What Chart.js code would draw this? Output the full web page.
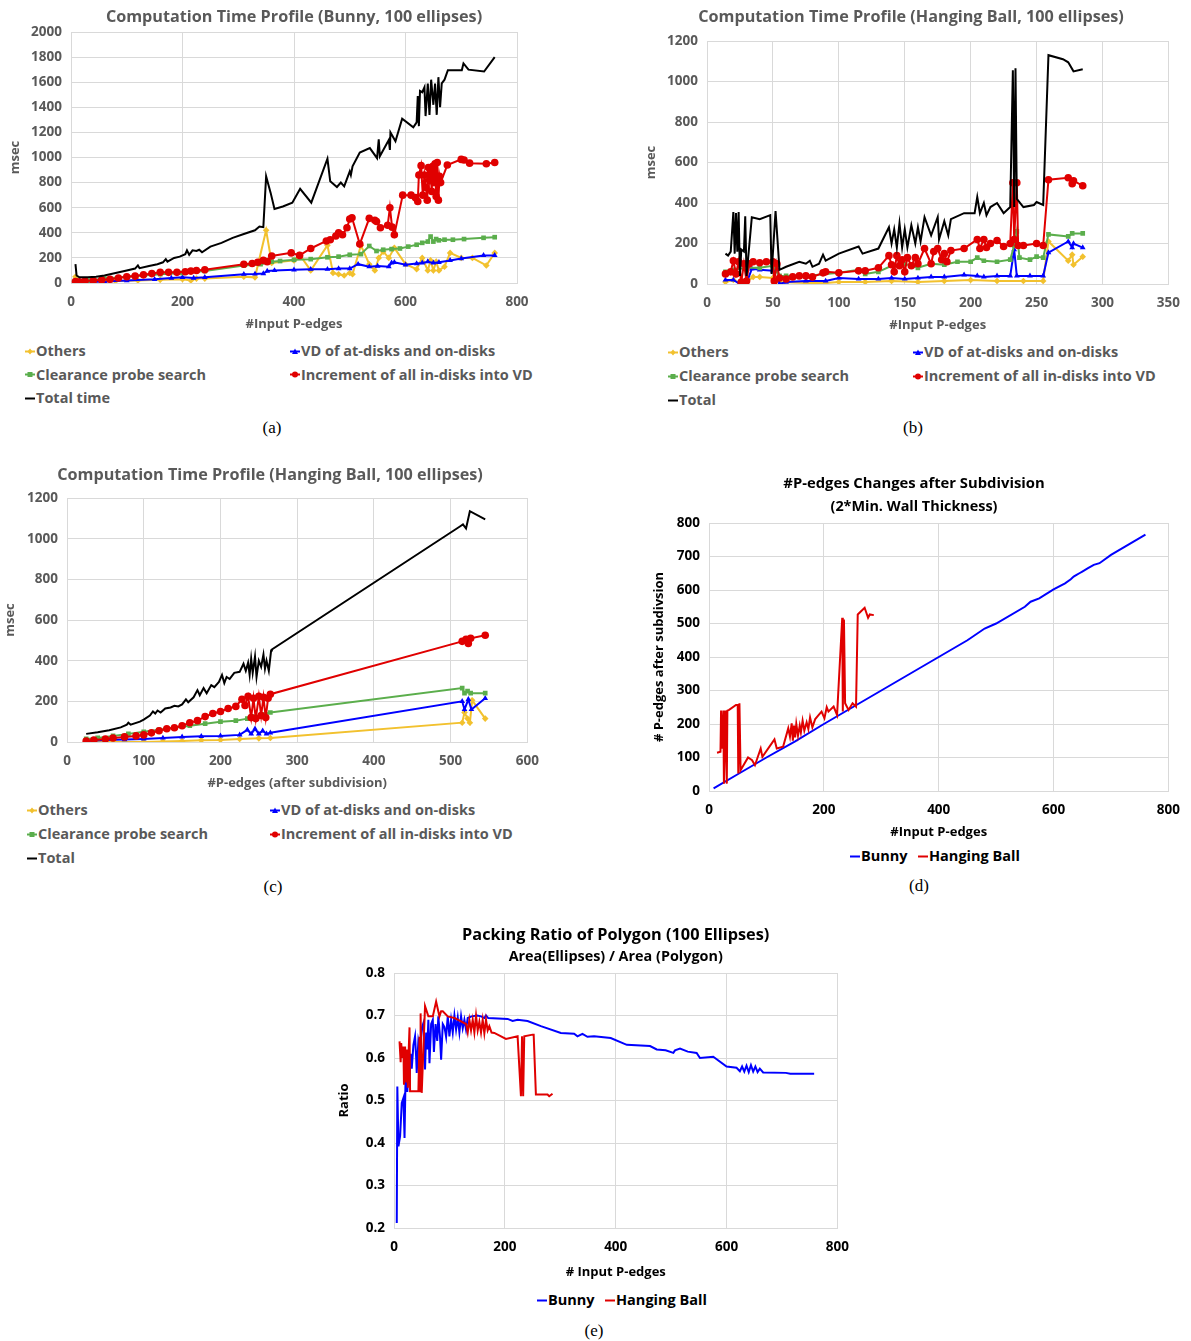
<!DOCTYPE html>
<html>
<head>
<meta charset="utf-8">
<script src="https://cdn.jsdelivr.net/npm/chart.js@4.4.0/dist/chart.umd.min.js"></script>
<style>
body { margin:0; background:#fff; width:1191px; height:1341px; position:relative; overflow:hidden; font-family:"Open Sans", sans-serif; }
canvas { position:absolute; }
.lg { position:absolute; font:bold 14.5px "Open Sans"; color:#595959; white-space:nowrap; line-height:18px; }
.lg svg { vertical-align:middle; margin-right:1px; position:relative; top:-1px; }
.cap { position:absolute; font:17px "Liberation Serif"; color:#000; transform:translate(-50%,-50%); }
</style>
</head>
<body>
<canvas id="chartA"></canvas>
<canvas id="chartB"></canvas>
<canvas id="chartC"></canvas>
<canvas id="chartD"></canvas>
<canvas id="chartE"></canvas>
<script>
// (a) Bunny, time vs #input P-edges  [x, msec]
const bunnyTotal = [[8,150],[10,60],[15,45],[30,45],[45,50],[60,60],[80,80],[100,100],[115,115],[120,140],[123,118],[140,135],[155,150],[165,165],[170,190],[173,170],[185,200],[195,210],[205,230],[208,260],[212,225],[218,260],[225,255],[230,265],[235,245],[250,290],[270,320],[290,360],[310,390],[330,420],[338,450],[345,445],[350,850],[358,720],[365,590],[380,610],[397,640],[411,750],[431,640],[460,990],[465,810],[477,765],[484,800],[490,770],[500,890],[502,860],[505,930],[518,1040],[536,1075],[549,995],[552,1145],[554,1010],[570,1140],[572,1060],[573,1200],[582,1130],[594,1310],[614,1240],[620,1280],[622,1490],[624,1250],[626,1530],[630,1520],[634,1560],[636,1330],[640,1590],[643,1340],[646,1620],[650,1420],[653,1590],[656,1340],[659,1640],[662,1400],[665,1590],[670,1620],[676,1695],[701,1695],[704,1750],[713,1700],[741,1685],[760,1800]];
const bunnyIncrement = [[8,12],[15,10],[25,15],[40,20],[55,25],[70,30],[85,40],[100,50],[115,55],[130,65],[145,75],[160,85],[175,85],[190,85],[205,90],[215,95],[225,100],[240,105],[310,150],[325,155],[335,165],[345,180],[352,170],[360,215],[395,240],[410,220],[430,275],[458,335],[465,345],[475,375],[480,400],[487,385],[495,440],[500,510],[504,520],[518,310],[535,515],[545,500],[548,490],[555,440],[568,460],[572,600],[576,445],[580,385],[595,700],[610,700],[618,680],[622,650],[624,860],[628,935],[631,700],[634,860],[637,760],[639,660],[641,920],[643,820],[645,890],[647,730],[649,930],[651,800],[653,950],[655,690],[657,960],[659,660],[661,850],[663,800],[675,940],[700,985],[705,980],[715,955],[745,950],[760,960]];
const bunnyClearance = [[8,10],[30,20],[60,35],[100,50],[130,60],[160,70],[200,80],[240,95],[310,140],[340,150],[360,170],[375,175],[400,185],[430,190],[460,205],[480,210],[500,225],[520,230],[535,295],[548,255],[560,265],[575,270],[590,275],[605,290],[620,305],[630,320],[640,330],[645,370],[650,330],[655,350],[660,340],[670,345],[685,345],[705,350],[740,360],[760,365]];
const bunnyVD = [[8,5],[30,8],[60,12],[100,20],[150,30],[180,40],[200,45],[220,40],[240,45],[310,70],[330,72],[345,75],[352,95],[365,100],[400,105],[430,110],[460,110],[480,115],[500,115],[515,150],[535,130],[550,135],[570,130],[575,160],[580,165],[600,145],[620,155],[630,160],[640,170],[650,160],[660,165],[680,180],[700,195],[740,220],[760,220]];
const bunnyOthers = [[8,50],[12,10],[40,12],[80,15],[120,20],[160,25],[200,30],[215,20],[225,35],[240,35],[310,50],[330,45],[350,420],[360,160],[400,180],[410,225],[430,100],[460,300],[470,80],[480,70],[490,60],[500,80],[505,70],[520,300],[535,150],[545,100],[552,200],[560,250],[570,200],[580,280],[600,150],[620,110],[630,200],[640,100],[645,180],[650,100],[655,170],[660,100],[670,130],[680,240],[700,200],[720,200],[745,140],[760,240]];

// (b) Hanging Ball, time vs #input P-edges
const ballTotal = [[14,150],[16,140],[18,160],[20,355],[21,150],[22,350],[23,160],[24,355],[25,40],[26,170],[28,160],[29,335],[30,40],[34,330],[40,320],[48,340],[49,50],[52,360],[55,70],[60,85],[70,110],[75,100],[78,115],[80,85],[85,100],[88,145],[90,115],[100,150],[115,185],[118,150],[130,175],[138,280],[140,200],[142,270],[144,180],[146,300],[148,180],[150,270],[152,180],[155,290],[158,200],[160,280],[162,210],[165,330],[170,240],[175,330],[176,220],[180,310],[183,240],[185,320],[195,350],[203,350],[205,430],[207,350],[210,400],[212,340],[215,380],[220,400],[225,350],[230,380],[232,1055],[233,380],[234,1065],[235,420],[240,380],[248,390],[250,405],[255,390],[259,1130],[270,1110],[274,1095],[278,1050],[285,1060]];
const ballIncrement = [[14,50],[18,60],[20,115],[22,50],[24,110],[26,10],[28,100],[30,15],[32,100],[35,110],[40,105],[45,110],[50,110],[51,15],[53,100],[55,30],[60,25],[65,35],[70,40],[75,40],[80,35],[88,55],[90,60],[100,55],[115,65],[120,65],[130,80],[138,140],[140,95],[142,60],[144,140],[146,90],[148,120],[150,60],[152,130],[155,90],[158,130],[160,100],[165,175],[170,100],[172,160],[175,175],[178,120],[180,150],[182,110],[185,165],[195,175],[205,220],[207,175],[210,220],[212,180],[215,200],[220,215],[225,185],[230,200],[232,500],[233,220],[235,500],[236,190],[240,190],[250,200],[255,190],[259,515],[274,525],[277,495],[278,510],[285,485]];
const ballClearance = [[14,60],[20,70],[30,80],[40,80],[50,90],[55,40],[60,40],[75,40],[100,55],[115,70],[120,50],[130,60],[140,90],[150,100],[160,80],[170,100],[180,95],[190,110],[200,110],[205,130],[210,115],[220,110],[230,120],[233,190],[235,260],[237,130],[245,120],[250,135],[255,130],[259,245],[274,235],[277,250],[285,250]];
const ballVD = [[14,20],[20,20],[25,0],[30,5],[34,75],[40,70],[50,65],[53,80],[55,0],[60,10],[75,15],[90,15],[100,30],[115,25],[130,25],[140,30],[150,25],[160,30],[170,35],[180,35],[195,45],[205,40],[210,35],[220,40],[230,40],[233,170],[235,40],[245,40],[255,40],[259,155],[274,210],[277,180],[278,200],[285,180]];
const ballOthers = [[14,10],[20,20],[25,5],[30,10],[35,35],[40,35],[50,30],[55,10],[75,5],[90,5],[100,10],[120,10],[140,15],[160,10],[180,15],[200,20],[220,15],[240,15],[255,15],[259,210],[274,115],[277,145],[278,95],[285,135]];

// (c) Hanging Ball, time vs #P-edges after subdivision
const subTotal = [[25,40],[40,48],[55,58],[70,72],[78,85],[80,95],[83,85],[95,100],[100,110],[108,130],[112,150],[115,140],[118,155],[122,145],[128,165],[135,170],[140,178],[145,175],[150,185],[155,210],[158,195],[165,220],[170,255],[173,230],[178,265],[182,240],[188,280],[192,270],[198,295],[202,330],[205,290],[208,320],[212,310],[218,340],[225,345],[230,385],[233,350],[236,390],[238,330],[240,410],[242,340],[245,420],[247,320],[250,400],[253,370],[256,430],[258,360],[260,400],[263,350],[266,450],[267,455],[512,1060],[516,1070],[520,1050],[525,1135],[545,1095]];
const subIncrement = [[25,5],[35,10],[50,15],[60,20],[75,25],[90,30],[100,35],[110,45],[120,55],[130,65],[140,70],[150,80],[160,95],[170,105],[180,125],[190,140],[200,150],[210,165],[220,175],[228,210],[232,180],[236,225],[240,120],[243,215],[246,115],[250,225],[253,130],[256,220],[259,120],[262,215],[265,235],[515,495],[520,505],[523,485],[526,510],[545,525]];
const subClearance = [[25,15],[40,20],[60,30],[80,40],[100,50],[120,60],[140,70],[160,80],[180,90],[200,100],[220,105],[235,115],[245,125],[255,135],[265,145],[515,265],[518,240],[522,250],[526,240],[545,240]];
const subVD = [[25,5],[50,10],[75,12],[100,15],[125,20],[150,25],[175,28],[200,30],[225,35],[235,60],[240,40],[245,65],[250,40],[255,55],[260,40],[265,45],[515,200],[518,160],[523,210],[527,160],[545,215]];
const subOthers = [[25,0],[50,0],[75,0],[100,0],[125,2],[150,5],[175,8],[200,10],[225,15],[250,18],[265,20],[515,95],[518,145],[522,115],[525,95],[528,205],[545,115]];

// (d) #P-edges after subdivision vs #input P-edges
const edgesBunny = [[8,8],[50,50],[100,100],[150,148],[200,200],[250,250],[300,300],[350,350],[400,400],[450,450],[480,485],[500,500],[550,550],[560,565],[575,575],[600,602],[620,620],[630,632],[635,640],[640,645],[645,650],[650,655],[655,660],[660,665],[670,675],[680,680],[700,705],[760,765]];
const edgesBall = [[14,114],[20,117],[21,240],[23,126],[25,240],[26,22],[29,240],[31,22],[32,240],[35,242],[47,257],[50,257],[51,52],[53,262],[55,62],[68,100],[75,92],[80,77],[90,127],[93,102],[114,154],[118,127],[129,132],[138,187],[141,162],[144,202],[146,150],[148,195],[150,160],[152,200],[155,165],[158,195],[160,175],[163,210],[166,180],[170,205],[173,185],[176,220],[180,190],[185,215],[190,225],[196,237],[201,217],[205,250],[208,237],[217,252],[223,227],[232,517],[233,237],[235,512],[237,262],[243,242],[250,262],[256,252],[259,527],[271,547],[277,517],[280,527],[287,525]];

// (e) packing ratio vs #input P-edges
const ratioBunny = [[5,0.212],[6,0.533],[8,0.392],[11,0.416],[14,0.494],[17,0.506],[19,0.412],[21,0.565],[24,0.52],[26,0.58],[28,0.55],[30,0.61],[32,0.575],[35,0.63],[38,0.651],[40,0.6],[41,0.565],[44,0.64],[47,0.62],[50,0.67],[53,0.682],[56,0.573],[58,0.66],[60,0.62],[62,0.69],[64,0.588],[67,0.68],[70,0.69],[72,0.614],[75,0.68],[78,0.64],[80,0.698],[83,0.65],[85,0.596],[88,0.68],[91,0.673],[94,0.65],[97,0.698],[100,0.651],[103,0.69],[106,0.66],[109,0.7],[112,0.667],[115,0.695],[118,0.66],[121,0.698],[124,0.67],[127,0.69],[130,0.667],[133,0.694],[140,0.698],[150,0.7],[157,0.698],[163,0.694],[166,0.7],[170,0.694],[205,0.692],[214,0.687],[223,0.69],[241,0.687],[265,0.675],[301,0.659],[325,0.657],[331,0.651],[340,0.657],[349,0.65],[361,0.651],[391,0.647],[420,0.631],[462,0.628],[474,0.62],[490,0.618],[504,0.612],[507,0.618],[516,0.622],[530,0.615],[546,0.612],[552,0.6],[576,0.603],[600,0.58],[618,0.577],[624,0.569],[628,0.58],[632,0.568],[636,0.582],[640,0.567],[644,0.583],[648,0.568],[652,0.58],[656,0.567],[660,0.575],[666,0.566],[707,0.565],[715,0.563],[758,0.563]];
const ratioBall = [[10,0.639],[12,0.59],[13,0.635],[15,0.6],[17,0.627],[18,0.537],[20,0.627],[22,0.545],[23,0.62],[25,0.53],[26,0.6],[28,0.672],[29,0.522],[32,0.522],[44,0.522],[46,0.65],[47,0.522],[48,0.705],[50,0.518],[56,0.722],[62,0.698],[70,0.698],[76,0.733],[82,0.698],[85,0.71],[88,0.71],[97,0.698],[109,0.694],[121,0.686],[130,0.68],[133,0.66],[136,0.69],[139,0.665],[142,0.69],[145,0.66],[148,0.7],[151,0.665],[154,0.685],[157,0.66],[160,0.69],[163,0.658],[166,0.69],[169,0.665],[172,0.675],[176,0.66],[181,0.659],[202,0.645],[223,0.651],[229,0.51],[231,0.651],[233,0.51],[235,0.651],[250,0.655],[252,0.655],[256,0.514],[277,0.514],[280,0.51],[286,0.516]];

const timeLabels = ['Others', 'VD of at-disks and on-disks', 'Clearance probe search', 'Increment of all in-disks into VD'];

const YELLOW = '#F2C12E', BLUE = '#0000FF', GREEN = '#5BAE4C', RED = '#E00000', BLACK = '#000000';
const GRAY = '#595959';
const FONT = 'Open Sans';

const toXY = arr => arr.map(p => ({ x: p[0], y: p[1] }));

// the 5 series of the time profile charts, topmost first
function timeSets(total, inc, clear, vd, others, totalLabel) {
  const mk = (label, data, color, style, r) => ({
    label, data: toXY(data), borderColor: color, backgroundColor: color, borderWidth: 2,
    pointStyle: style, pointRadius: r, pointBorderWidth: 0, tension: 0
  });
  return [
    mk(totalLabel, total, BLACK, false, 0),
    mk(timeLabels[3], inc, RED, 'circle', 3.8),
    mk(timeLabels[2], clear, GREEN, 'rect', 3.3),
    mk(timeLabels[1], vd, BLUE, 'triangle', 3.3),
    mk(timeLabels[0], others, YELLOW, 'rectRot', 3.3)
  ];
}

function lineSets(bunny, ball) {
  return [
    { label: 'Hanging Ball', data: toXY(ball), borderColor: RED, borderWidth: 2, pointRadius: 0, tension: 0 },
    { label: 'Bunny', data: toXY(bunny), borderColor: BLUE, borderWidth: 2, pointRadius: 0, tension: 0 }
  ];
}

function makeChart(c) {
  const el = document.getElementById(c.id);
  el.style.left = c.left + 'px';
  el.style.top = c.top + 'px';
  el.width = c.w;
  el.height = c.h;
  // title centred on titleCX: either over the plot area, or over [padL, plot right]
  const padRaw = 2 * (c.titleCX - c.left) - c.plot[2];
  const overPlot = padRaw > c.plot[0] - 45;
  const padL = overPlot ? 0 : Math.max(padRaw, 0);
  const tSize = c.titleSize, tLH = tSize * 1.2;
  const plugins = {
    legend: { display: false },
    tooltip: { enabled: false },
    title: {
      display: true, text: c.title, color: c.textColor, fullSize: !overPlot,
      font: { family: FONT, weight: 'bold', size: tSize, lineHeight: 1.2 },
      padding: { top: c.titleY - tLH / 2, bottom: c.sub ? 0 : c.plot[1] - c.titleY - tLH / 2 }
    }
  };
  if (c.sub) {
    const sLH = 14.4 * 1.2;
    plugins.subtitle = {
      display: true, text: c.sub, color: c.textColor, fullSize: !overPlot,
      font: { family: FONT, weight: 'bold', size: 14.4, lineHeight: 1.2 },
      padding: { top: c.subY - c.titleY - tLH / 2 - sLH / 2, bottom: c.plot[1] - c.subY - sLH / 2 }
    };
  }
  const tickFont = { family: FONT, weight: 'bold', size: 13.5 };
  const axFont = { family: FONT, weight: 'bold', size: 13, lineHeight: 1.2 };
  const grid = { color: '#D9D9D9', drawTicks: false };
  const fmt = v => String(+v.toFixed(2));
  new Chart(el, {
    type: 'line',
    data: { datasets: c.datasets },
    options: {
      responsive: false,
      animation: false,
      layout: { padding: { left: padL, right: c.w - c.plot[2], top: 0, bottom: 0 } },
      plugins,
      scales: {
        x: {
          type: 'linear', min: c.x[0], max: c.x[1],
          ticks: { stepSize: c.x[2], color: c.textColor, font: tickFont, padding: c.xTickPad, maxRotation: 0, autoSkip: false, callback: fmt },
          grid, border: { color: '#D9D9D9' },
          title: { display: true, text: c.xTitle, color: c.textColor, font: axFont, padding: { top: 0, bottom: c.h - c.xTitleY - 7.8 } },
          afterFit: s => { s.height = c.h - c.plot[3]; }
        },
        y: {
          type: 'linear', min: c.y[0], max: c.y[1],
          ticks: { stepSize: c.y[2], color: c.textColor, font: tickFont, padding: 9, autoSkip: false, callback: fmt },
          grid, border: { color: '#D9D9D9' },
          title: { display: true, text: c.yTitle, color: c.textColor, font: axFont, padding: { top: c.yTitleX - 7.8 - padL, bottom: 0 } },
          afterFit: s => { s.width = c.plot[0] - padL; }
        }
      }
    }
  });
}

// small legend marker: line with a point shape
function markerSvg(color, shape) {
  let s = '';
  if (shape === 'rectRot') s = '<path d="M5 1.5 L7.5 4.5 L5 7.5 L2.5 4.5Z"/>';
  if (shape === 'triangle') s = '<path d="M5 1.5 L8 7 L2 7Z"/>';
  if (shape === 'rect') s = '<rect x="2.5" y="2" width="5" height="5"/>';
  if (shape === 'circle') s = '<circle cx="5" cy="4.5" r="3"/>';
  return '<svg width="10" height="9" fill="' + color + '"><line x1="0" y1="4.5" x2="10" y2="4.5" stroke="' + color + '" stroke-width="2"/>' + s + '</svg>';
}

function legendItem(x, y, text, color, shape, textColor) {
  const d = document.createElement('div');
  d.className = 'lg';
  d.style.left = x + 'px';
  d.style.top = (y - 9) + 'px';
  if (textColor) d.style.color = textColor;
  d.innerHTML = markerSvg(color, shape) + text;
  document.body.appendChild(d);
}

function caption(x, y, text) {
  const d = document.createElement('div');
  d.className = 'cap';
  d.style.left = x + 'px';
  d.style.top = y + 'px';
  d.textContent = text;
  document.body.appendChild(d);
}

function timeLegend(x1, x2, y0, dy, totalLabel) {
  legendItem(x1, y0, timeLabels[0], YELLOW, 'rectRot');
  legendItem(x2, y0, timeLabels[1], BLUE, 'triangle');
  legendItem(x1, y0 + dy, timeLabels[2], GREEN, 'rect');
  legendItem(x2, y0 + dy, timeLabels[3], RED, 'circle');
  legendItem(x1, y0 + 2 * dy, totalLabel, BLACK, null);
}

makeChart({
  id: 'chartA', left: 0, top: 0, w: 540, h: 336, plot: [71, 32, 517, 283],
  title: 'Computation Time Profile (Bunny, 100 ellipses)', titleSize: 16.2, titleY: 17, titleCX: 295, textColor: GRAY,
  x: [0, 800, 200], y: [0, 2000, 200], xTickPad: 11,
  xTitle: '#Input P-edges', xTitleY: 324, yTitle: 'msec', yTitleX: 15,
  datasets: timeSets(bunnyTotal, bunnyIncrement, bunnyClearance, bunnyVD, bunnyOthers, 'Total time')
});
makeChart({
  id: 'chartB', left: 640, top: 0, w: 551, h: 336, plot: [67, 41, 531, 284],
  title: 'Computation Time Profile (Hanging Ball, 100 ellipses)', titleSize: 16.2, titleY: 17, titleCX: 911, textColor: GRAY,
  x: [0, 350, 50], y: [0, 1200, 200], xTickPad: 11,
  xTitle: '#Input P-edges', xTitleY: 325, yTitle: 'msec', yTitleX: 11,
  datasets: timeSets(ballTotal, ballIncrement, ballClearance, ballVD, ballOthers, 'Total')
});
makeChart({
  id: 'chartC', left: 0, top: 458, w: 550, h: 336, plot: [67, 40, 530, 284],
  title: 'Computation Time Profile (Hanging Ball, 100 ellipses)', titleSize: 16.2, titleY: 17, titleCX: 270, textColor: GRAY,
  x: [0, 600, 100], y: [0, 1200, 200], xTickPad: 11,
  xTitle: '#P-edges (after subdivision)', xTitleY: 325, yTitle: 'msec', yTitleX: 10,
  datasets: timeSets(subTotal, subIncrement, subClearance, subVD, subOthers, 'Total')
});
makeChart({
  id: 'chartD', left: 640, top: 470, w: 551, h: 372, plot: [69, 53, 533, 321],
  title: '#P-edges Changes after Subdivision', sub: '(2*Min. Wall Thickness)', titleSize: 14.8, titleY: 14, subY: 37, titleCX: 914, textColor: '#000',
  x: [0, 800, 200], y: [0, 800, 100], xTickPad: 11,
  xTitle: '#Input P-edges', xTitleY: 362, yTitle: '# P-edges after subdivsion', yTitleX: 19,
  datasets: lineSets(edgesBunny, edgesBall)
});
makeChart({
  id: 'chartE', left: 330, top: 920, w: 530, h: 362, plot: [64, 53, 511, 308],
  title: 'Packing Ratio of Polygon (100 Ellipses)', sub: 'Area(Ellipses) / Area (Polygon)', titleSize: 16.3, titleY: 15, subY: 37, titleCX: 619, textColor: '#000',
  x: [0, 800, 200], y: [0.2, 0.8, 0.1], xTickPad: 11,
  xTitle: '# Input P-edges', xTitleY: 352, yTitle: 'Ratio', yTitleX: 14,
  datasets: lineSets(ratioBunny, ratioBall)
});

timeLegend(25, 290, 351, 23.5, 'Total time');
timeLegend(668, 913, 352, 24, 'Total');
timeLegend(27, 270, 810, 24, 'Total');
legendItem(850, 856, 'Bunny', BLUE, null, '#000');
legendItem(918, 856, 'Hanging Ball', RED, null, '#000');
legendItem(537, 1300, 'Bunny', BLUE, null, '#000');
legendItem(605, 1300, 'Hanging Ball', RED, null, '#000');

caption(272, 428, '(a)');
caption(913, 428, '(b)');
caption(273, 887, '(c)');
caption(919, 886, '(d)');
caption(594, 1331, '(e)');
</script>
</body>
</html>
